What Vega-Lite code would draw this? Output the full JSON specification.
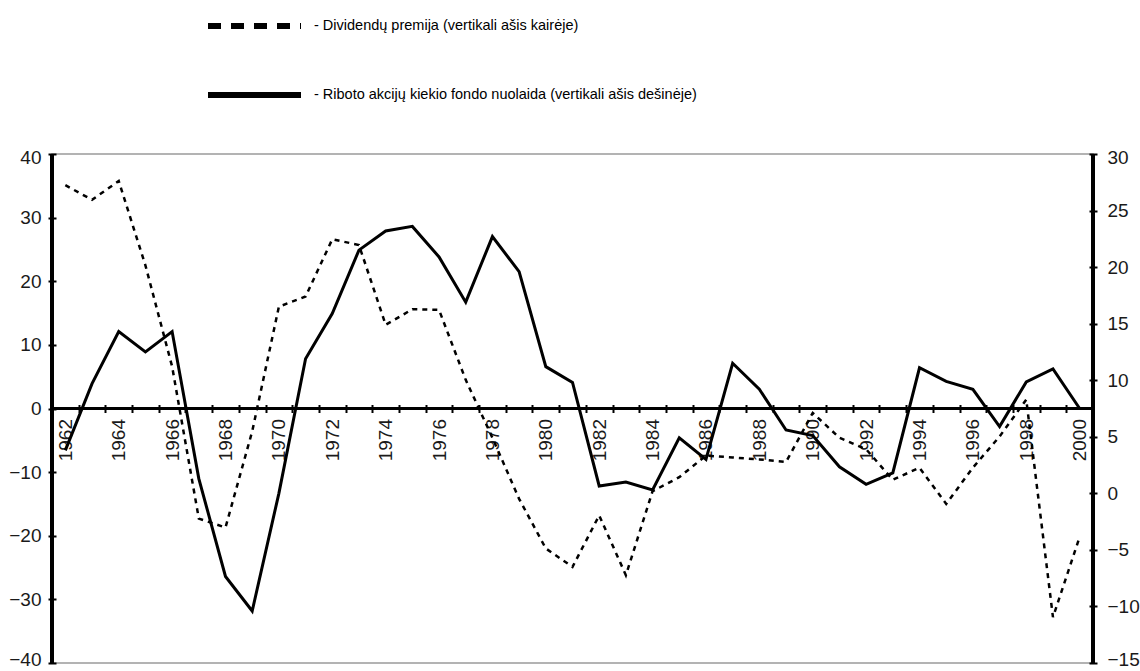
{
  "$schema": "https://vega.github.io/schema/vega-lite/v6.json",
  "width": 1041,
  "height": 509,
  "autosize": {"type": "none"},
  "padding": {"left": 52, "top": 154, "right": 47, "bottom": 8},
  "background": "white",
  "view": {"stroke": "#9a9a9a", "strokeWidth": 1.5},
  "config": {
    "font": "Liberation Sans",
    "axis": {"labelFont": "Liberation Sans", "labelFontSize": 19, "labelColor": "#1a1a1a", "tickColor": "black", "domainColor": "black", "grid": false, "title": null}
  },
  "data": {"values": [
    {"year": 1962, "series": "Dividendų premija", "value": 35.1},
    {"year": 1963, "series": "Dividendų premija", "value": 32.8},
    {"year": 1964, "series": "Dividendų premija", "value": 35.75},
    {"year": 1965, "series": "Dividendų premija", "value": 22.5},
    {"year": 1966, "series": "Dividendų premija", "value": 6.6},
    {"year": 1967, "series": "Dividendų premija", "value": -17.3},
    {"year": 1968, "series": "Dividendų premija", "value": -18.7},
    {"year": 1969, "series": "Dividendų premija", "value": -3.6},
    {"year": 1970, "series": "Dividendų premija", "value": 16.0},
    {"year": 1971, "series": "Dividendų premija", "value": 17.6},
    {"year": 1972, "series": "Dividendų premija", "value": 26.6},
    {"year": 1973, "series": "Dividendų premija", "value": 25.7},
    {"year": 1974, "series": "Dividendų premija", "value": 13.15},
    {"year": 1975, "series": "Dividendų premija", "value": 15.6},
    {"year": 1976, "series": "Dividendų premija", "value": 15.5},
    {"year": 1977, "series": "Dividendų premija", "value": 4.5},
    {"year": 1978, "series": "Dividendų premija", "value": -4.6},
    {"year": 1979, "series": "Dividendų premija", "value": -14.2},
    {"year": 1980, "series": "Dividendų premija", "value": -22.0},
    {"year": 1981, "series": "Dividendų premija", "value": -24.9},
    {"year": 1982, "series": "Dividendų premija", "value": -16.8},
    {"year": 1983, "series": "Dividendų premija", "value": -26.2},
    {"year": 1984, "series": "Dividendų premija", "value": -13.0},
    {"year": 1985, "series": "Dividendų premija", "value": -10.8},
    {"year": 1986, "series": "Dividendų premija", "value": -7.4},
    {"year": 1987, "series": "Dividendų premija", "value": -7.7},
    {"year": 1988, "series": "Dividendų premija", "value": -8.0},
    {"year": 1989, "series": "Dividendų premija", "value": -8.4},
    {"year": 1990, "series": "Dividendų premija", "value": -0.7},
    {"year": 1991, "series": "Dividendų premija", "value": -4.6},
    {"year": 1992, "series": "Dividendų premija", "value": -6.4},
    {"year": 1993, "series": "Dividendų premija", "value": -11.2},
    {"year": 1994, "series": "Dividendų premija", "value": -9.3},
    {"year": 1995, "series": "Dividendų premija", "value": -15.0},
    {"year": 1996, "series": "Dividendų premija", "value": -9.3},
    {"year": 1997, "series": "Dividendų premija", "value": -4.4},
    {"year": 1998, "series": "Dividendų premija", "value": 1.4},
    {"year": 1999, "series": "Dividendų premija", "value": -32.8},
    {"year": 2000, "series": "Dividendų premija", "value": -20.2},
    {"year": 1962, "series": "Riboto akcijų kiekio fondo nuolaida", "value": 3.8},
    {"year": 1963, "series": "Riboto akcijų kiekio fondo nuolaida", "value": 9.7},
    {"year": 1964, "series": "Riboto akcijų kiekio fondo nuolaida", "value": 14.3},
    {"year": 1965, "series": "Riboto akcijų kiekio fondo nuolaida", "value": 12.5},
    {"year": 1966, "series": "Riboto akcijų kiekio fondo nuolaida", "value": 14.3},
    {"year": 1967, "series": "Riboto akcijų kiekio fondo nuolaida", "value": 1.3},
    {"year": 1968, "series": "Riboto akcijų kiekio fondo nuolaida", "value": -7.35},
    {"year": 1969, "series": "Riboto akcijų kiekio fondo nuolaida", "value": -10.4},
    {"year": 1970, "series": "Riboto akcijų kiekio fondo nuolaida", "value": 0.0},
    {"year": 1971, "series": "Riboto akcijų kiekio fondo nuolaida", "value": 11.9},
    {"year": 1972, "series": "Riboto akcijų kiekio fondo nuolaida", "value": 15.9},
    {"year": 1973, "series": "Riboto akcijų kiekio fondo nuolaida", "value": 21.5},
    {"year": 1974, "series": "Riboto akcijų kiekio fondo nuolaida", "value": 23.2},
    {"year": 1975, "series": "Riboto akcijų kiekio fondo nuolaida", "value": 23.6},
    {"year": 1976, "series": "Riboto akcijų kiekio fondo nuolaida", "value": 20.9},
    {"year": 1977, "series": "Riboto akcijų kiekio fondo nuolaida", "value": 16.9},
    {"year": 1978, "series": "Riboto akcijų kiekio fondo nuolaida", "value": 22.7},
    {"year": 1979, "series": "Riboto akcijų kiekio fondo nuolaida", "value": 19.6},
    {"year": 1980, "series": "Riboto akcijų kiekio fondo nuolaida", "value": 11.2},
    {"year": 1981, "series": "Riboto akcijų kiekio fondo nuolaida", "value": 9.8},
    {"year": 1982, "series": "Riboto akcijų kiekio fondo nuolaida", "value": 0.65},
    {"year": 1983, "series": "Riboto akcijų kiekio fondo nuolaida", "value": 1.0},
    {"year": 1984, "series": "Riboto akcijų kiekio fondo nuolaida", "value": 0.3},
    {"year": 1985, "series": "Riboto akcijų kiekio fondo nuolaida", "value": 4.9},
    {"year": 1986, "series": "Riboto akcijų kiekio fondo nuolaida", "value": 3.0},
    {"year": 1987, "series": "Riboto akcijų kiekio fondo nuolaida", "value": 11.5},
    {"year": 1988, "series": "Riboto akcijų kiekio fondo nuolaida", "value": 9.2},
    {"year": 1989, "series": "Riboto akcijų kiekio fondo nuolaida", "value": 5.6},
    {"year": 1990, "series": "Riboto akcijų kiekio fondo nuolaida", "value": 5.1},
    {"year": 1991, "series": "Riboto akcijų kiekio fondo nuolaida", "value": 2.35},
    {"year": 1992, "series": "Riboto akcijų kiekio fondo nuolaida", "value": 0.8},
    {"year": 1993, "series": "Riboto akcijų kiekio fondo nuolaida", "value": 1.8},
    {"year": 1994, "series": "Riboto akcijų kiekio fondo nuolaida", "value": 11.1},
    {"year": 1995, "series": "Riboto akcijų kiekio fondo nuolaida", "value": 9.9},
    {"year": 1996, "series": "Riboto akcijų kiekio fondo nuolaida", "value": 9.2},
    {"year": 1997, "series": "Riboto akcijų kiekio fondo nuolaida", "value": 5.9},
    {"year": 1998, "series": "Riboto akcijų kiekio fondo nuolaida", "value": 9.85},
    {"year": 1999, "series": "Riboto akcijų kiekio fondo nuolaida", "value": 11.0},
    {"year": 2000, "series": "Riboto akcijų kiekio fondo nuolaida", "value": 7.5}
  ]},
  "layer": [
    {
      "mark": {"type": "rule", "color": "black", "strokeWidth": 2},
      "encoding": {"y": {"datum": 0, "type": "quantitative", "scale": {"domain": [-40, 40], "nice": false, "zero": false}, "axis": null}}
    },
    {
      "mark": {"type": "rule", "color": "black", "strokeWidth": 2.5},
      "encoding": {"x": {"datum": 1961.5, "type": "quantitative", "scale": {"domain": [1961.5, 2000.5], "nice": false, "zero": false}, "axis": null}}
    },
    {
      "mark": {"type": "rule", "color": "black", "strokeWidth": 2.5},
      "encoding": {"x": {"datum": 2000.5, "type": "quantitative", "scale": {"domain": [1961.5, 2000.5], "nice": false, "zero": false}, "axis": null}}
    },
    {
      "mark": {"type": "line", "color": "black", "strokeWidth": 0},
      "encoding": {
        "x": {"field": "year", "type": "quantitative", "scale": {"domain": [1961.5, 2000.5], "nice": false, "zero": false}, "axis": null},
        "y": {"field": "value", "type": "quantitative", "scale": {"domain": [-40, 40], "nice": false, "zero": false}, "axis": null},
        "strokeDash": {"field": "series", "type": "nominal",
          "scale": {"domain": ["Dividendų premija", "Riboto akcijų kiekio fondo nuolaida"], "range": [[13, 10], [1, 0]]},
          "legend": {"orient": "none", "legendX": 184, "legendY": -146.5, "title": null, "padding": 0,
            "symbolType": "M-3,0H3", "symbolSize": 961, "symbolStrokeWidth": 6, "symbolStrokeColor": "black", "symbolOpacity": 1,
            "labelOffset": 41, "rowPadding": 38, "labelFont": "Liberation Sans", "labelFontSize": 14.5, "labelColor": "black", "labelLimit": 0,
            "labelExpr": "'- ' + datum.label + '  (vertikali ašis ' + (datum.label == 'Dividendų premija' ? 'kairėje' : 'dešinėje') + ')'"}}
      }
    },
    {
      "transform": [{"filter": "datum.series == 'Dividendų premija'"}],
      "mark": {"type": "line", "color": "black", "strokeWidth": 2.5, "strokeDash": [5, 5]},
      "encoding": {
        "x": {"field": "year", "type": "quantitative",
          "scale": {"domain": [1961.5, 2000.5], "nice": false, "zero": false},
          "axis": {"orient": "bottom", "offset": -254.5, "values": [1962, 1964, 1966, 1968, 1970, 1972, 1974, 1976, 1978, 1980, 1982, 1984, 1986, 1988, 1990, 1992, 1994, 1996, 1998, 2000],
            "format": "d", "labelAngle": 270, "ticks": false, "tickSize": 0, "domain": false, "labelPadding": 10, "labelFlush": false, "labelOverlap": false, "labelBound": false, "title": null}},
        "y": {"field": "value", "type": "quantitative",
          "scale": {"domain": [-40, 40], "nice": false, "zero": false},
          "axis": {"orient": "left", "values": [-40, -30, -20, -10, 0, 10, 20, 30, 40], "offset": -4, "tickSize": 8, "tickWidth": 2, "domain": false, "labelPadding": 7, "labelFlush": true, "labelFlushOffset": 6, "title": null}}
      }
    },
    {
      "transform": [{"filter": "datum.series == 'Riboto akcijų kiekio fondo nuolaida'"}],
      "mark": {"type": "line", "color": "black", "strokeWidth": 3},
      "encoding": {
        "x": {"field": "year", "type": "quantitative",
          "scale": {"domain": [1961.5, 2000.5], "nice": false, "zero": false},
          "axis": {"orient": "bottom", "offset": -258.5, "values": [1961.5, 1962.5, 1963.5, 1964.5, 1965.5, 1966.5, 1967.5, 1968.5, 1969.5, 1970.5, 1971.5, 1972.5, 1973.5, 1974.5, 1975.5, 1976.5, 1977.5, 1978.5, 1979.5, 1980.5, 1981.5, 1982.5, 1983.5, 1984.5, 1985.5, 1986.5, 1987.5, 1988.5, 1989.5, 1990.5, 1991.5, 1992.5, 1993.5, 1994.5, 1995.5, 1996.5, 1997.5, 1998.5, 1999.5, 2000.5],
            "labels": false, "tickSize": 8, "tickWidth": 2, "domain": false, "title": null}},
        "y": {"field": "value", "type": "quantitative",
          "scale": {"domain": [-15, 30], "nice": false, "zero": false},
          "axis": {"orient": "right", "values": [-15, -10, -5, 0, 5, 10, 15, 20, 25, 30], "offset": -4, "tickSize": 8, "tickWidth": 2, "domain": false, "labelPadding": 10, "labelFlush": true, "labelFlushOffset": 6, "title": null}}
      }
    }
  ],
  "resolve": {"scale": {"y": "independent"}, "axis": {"x": "independent", "y": "independent"}}
}
